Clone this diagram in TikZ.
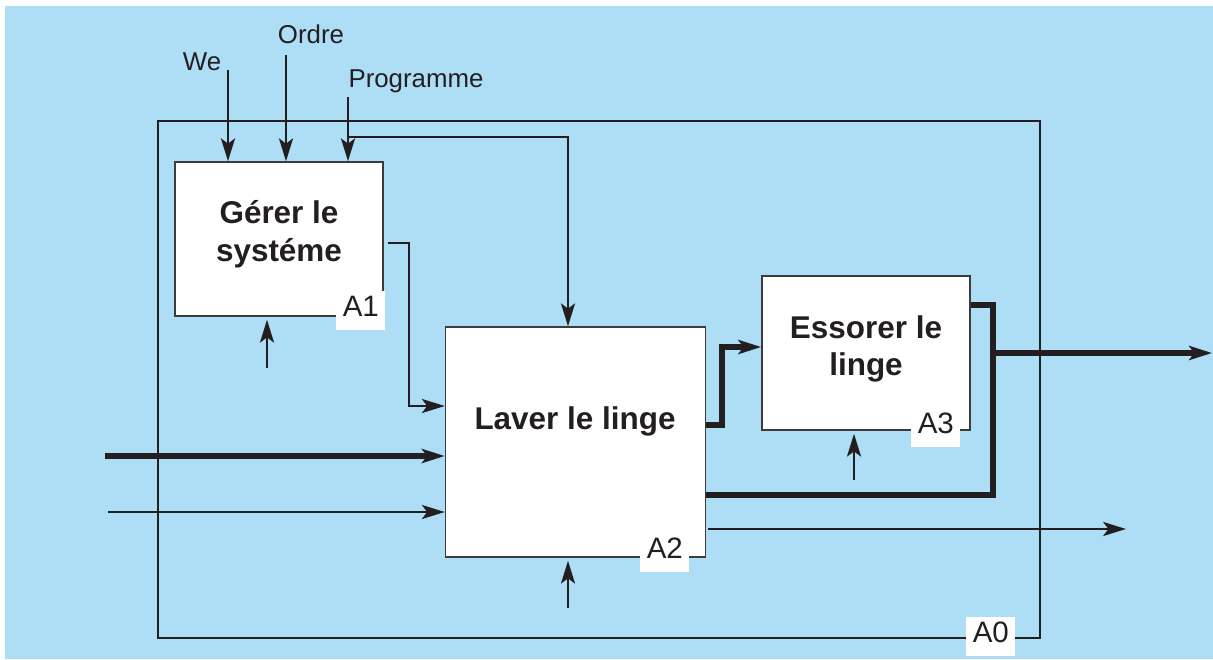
\documentclass[tikz,border=0pt]{standalone}
\usepackage{fontspec}
\setmainfont{Liberation Sans}
\usetikzlibrary{arrows.meta,positioning,calc}
\definecolor{bgblue}{HTML}{ADDEF6}
\definecolor{ink}{HTML}{231F20}
\definecolor{boxline}{HTML}{3C3C3C}

\begin{document}
\begin{tikzpicture}[
  x=0.02cm, y=-0.02cm,
  >={Stealth[length=13pt,width=8pt,inset=3pt]},
  every node/.style={text=ink},
  act/.style={draw=boxline, line width=0.9pt, fill=white, inner sep=0pt,
     minimum width=4.16cm, minimum height=3.08cm},
  acttxt/.style={align=center, inner sep=0pt,
     font=\fontsize{17.9}{21.5}\selectfont\bfseries},
  numtag/.style={fill=white, inner sep=0pt, anchor=north west, align=center,
     minimum width=0.98cm, text height=0.5cm, text depth=0.28cm,
     font=\fontsize{16.8}{20}\selectfont},
  lbl/.style={inner sep=0pt, font=\fontsize{14.7}{17}\selectfont},
  arr/.style={->, line width=1.25pt, draw=ink},
  tarr/.style={->, line width=2.9pt, draw=ink},
  bus/.style={line width=2.9pt, draw=ink},
  mech/.style={arr, shorten >=0.06cm},
  ctxframe/.style={line width=1.5pt, draw=ink},
]
% --- page ---
\useasboundingbox (0,0) rectangle (1213,659);
\fill[bgblue] (5,6) rectangle (1213,659);
% --- context A0 ---
\draw[ctxframe] (158,121) rectangle (1040,638);
% --- activities ---
\node[act] (a1) at (279,239) {};
\node[act, minimum width=5.2cm, minimum height=4.6cm] (a2) at (575.5,442) {};
\node[act] (a3) at (866,353) {};
\node[acttxt] (t1) at (279,234) {Gérer le\\systéme};
\node[acttxt] (t2) at (575,421) {Laver le linge};
\node[acttxt] (t3) at (866,349) {Essorer le\\linge};
% --- controls ---
\node[lbl] (we)    at (202,62) {We};
\node[lbl] (ordre) at (311,34) {Ordre};
\node[lbl] (prog)  at (416,81) {Programme};
\coordinate (weS) at (228,70);
\coordinate (orS) at (286,55);
\coordinate (prS) at (348,97);
\draw[arr] (weS) -- (weS |- a1.north);
\draw[arr] (orS) -- (orS |- a1.north);
\draw[arr] (prS) -- (prS |- a1.north);
% Programme also goes to A2
\coordinate (prJ) at (348,137);
\coordinate (prK) at (568,137);
\draw[arr] (prJ) -- (prK) -- (prK |- a2.north);
% --- A1 -> A2 ---
\coordinate (o1) at (409,406);
\draw[arr] ([xshift=0.08cm,yshift=-0.08cm]a1.east) -| (o1) -- (o1 -| a2.west);
% --- inputs ---
\coordinate (inT) at (105,456);
\coordinate (inS) at (108,512);
\draw[tarr] (inT) -- (inT -| a2.west);
\draw[arr] (inS) -- (inS -| a2.west);
% --- A2 -> A3 ---
\coordinate (k2) at (722,425);
\draw[tarr] (k2 -| a2.east) -- (k2) |- ([yshift=0.12cm]a3.west);
% --- outputs ---
\coordinate (jn)  at (993,353);
\coordinate (bt)  at (706,495);
\coordinate (outE) at (1212,353);
\draw[bus] ([yshift=0.96cm]a3.east) -| (jn) |- (bt);
\draw[tarr] (jn) -- (outE);
\coordinate (o2s) at (708,529);
\coordinate (o2)  at (1126,529);
\draw[arr] (o2s) -- (o2);
% --- mechanisms ---
\coordinate (m1) at (267,368);
\coordinate (m2) at (568,608);
\coordinate (m3) at (854,480);
\draw[mech] (m1) -- (m1 |- a1.south);
\draw[mech] (m2) -- (m2 |- a2.south);
\draw[mech] (m3) -- (m3 |- a3.south);
% --- numbers ---
\node[numtag] (n1) at (336,291) {A1};
\node[numtag] (n2) at (640,533) {A2};
\node[numtag] (n3) at (911,408) {A3};
\node[numtag] (n0) at (966,617) {A0};
\end{tikzpicture}
\end{document}
